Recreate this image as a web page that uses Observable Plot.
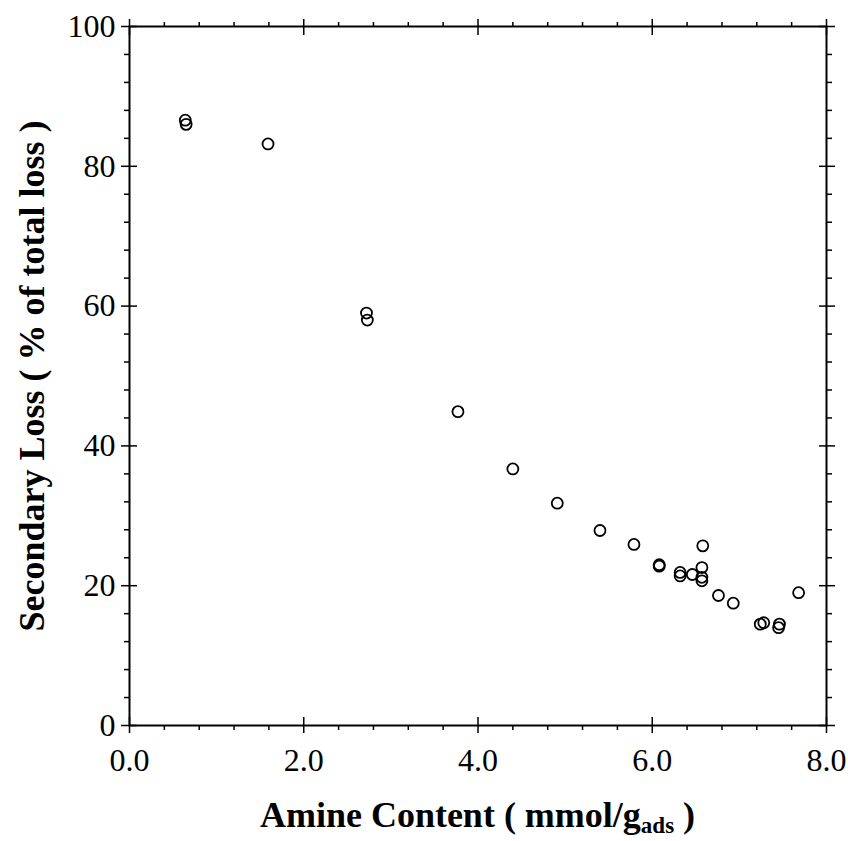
<!DOCTYPE html>
<html>
<head>
<meta charset="utf-8">
<script src="https://cdn.jsdelivr.net/npm/d3@7"></script>
<script src="https://cdn.jsdelivr.net/npm/@observablehq/plot@0.6"></script>
<style>
  html, body { margin: 0; padding: 0; background: white; overflow: hidden; }
  #xtitle { font-family: "Liberation Serif", "Times New Roman", serif; font-weight: bold; font-size: 36px;
            margin-left: 129px; width: 697px; text-align: center; line-height: 40px; color: black;
            height: 51px; padding-top: 5px; box-sizing: border-box; overflow: visible; white-space: nowrap; }
  #xtitle sub { font-size: 23px; vertical-align: -6px; line-height: 0; }
</style>
</head>
<body>
<div id="chart"></div>
<div id="xtitle">Amine Content ( mmol/g<sub>ads</sub> )</div>
<script>
const amine = [0.64, 0.65, 1.59, 2.72, 2.73, 3.77, 4.40, 4.91, 5.40, 5.79, 6.08, 6.08, 6.32, 6.32, 6.46, 6.58, 6.57, 6.57, 6.57, 6.76, 6.93, 7.24, 7.28, 7.46, 7.45, 7.68];
const secondaryLoss = [86.6, 86.0, 83.2, 59.0, 58.0, 44.9, 36.7, 31.8, 27.9, 25.9, 23.0, 22.8, 21.9, 21.4, 21.6, 25.7, 22.6, 21.2, 20.7, 18.6, 17.5, 14.5, 14.7, 14.5, 14.0, 19.0];
const xMajor = [0, 2, 4, 6, 8];
const xMinor = d3.range(0, 8.001, 0.4).map(v => +v.toFixed(1)).filter(v => !xMajor.includes(v));
const yMajor = [0, 20, 40, 60, 80, 100];
const yMinor = d3.range(0, 100.1, 4).filter(v => !yMajor.includes(v));
const yTitle = "Secondary Loss ( % of total loss )";

const data = amine.map((x, i) => ({x, y: secondaryLoss[i]}));

const sw = 1.5;
const plot = Plot.plot({
  width: 848,
  height: 790,
  marginLeft: 129,
  marginRight: 22,
  marginTop: 26,
  marginBottom: 65,
  x: {domain: [0, 8]},
  y: {domain: [0, 100]},
  style: {fontFamily: "'Liberation Serif', 'Times New Roman', serif", fontSize: "32px", color: "black", background: "white"},
  marks: [
    Plot.axisX(xMajor, {anchor: "bottom", tickSize: 8, tickPadding: 15, tickFormat: d3.format(".1f"), label: null, strokeWidth: sw, fontSize: 32}),
    Plot.axisX(xMajor, {anchor: "bottom", tickSize: -8, fill: "none", label: null, strokeWidth: sw}),
    Plot.axisX(xMajor, {anchor: "top", tickSize: 8, fill: "none", label: null, strokeWidth: sw}),
    Plot.axisX(xMajor, {anchor: "top", tickSize: -8, fill: "none", label: null, strokeWidth: sw}),
    Plot.axisX(xMinor, {anchor: "bottom", tickSize: 5, fill: "none", label: null, strokeWidth: sw}),
    Plot.axisX(xMinor, {anchor: "top", tickSize: 5, fill: "none", label: null, strokeWidth: sw}),
    Plot.axisY(yMajor, {anchor: "left", tickSize: 8, tickPadding: 6, tickFormat: d3.format("d"), label: null, strokeWidth: sw, fontSize: 32}),
    Plot.axisY(yMajor, {anchor: "left", tickSize: -8, fill: "none", label: null, strokeWidth: sw}),
    Plot.axisY(yMajor, {anchor: "right", tickSize: 8, fill: "none", label: null, strokeWidth: sw}),
    Plot.axisY(yMajor, {anchor: "right", tickSize: -8, fill: "none", label: null, strokeWidth: sw}),
    Plot.axisY(yMinor, {anchor: "left", tickSize: 5, fill: "none", label: null, strokeWidth: sw}),
    Plot.axisY(yMinor, {anchor: "right", tickSize: 5, fill: "none", label: null, strokeWidth: sw}),
    Plot.frame({stroke: "black", strokeWidth: 2}),
    Plot.dot(data, {x: "x", y: "y", r: 5.5, stroke: "black", strokeWidth: 1.8, fill: "none"}),
    Plot.text([yTitle], {frameAnchor: "left", rotate: -90, dx: -97, textAnchor: "middle", fontWeight: "bold", fontSize: 36, fill: "black"})
  ]
});
document.getElementById("chart").appendChild(plot);
</script>
</body>
</html>
